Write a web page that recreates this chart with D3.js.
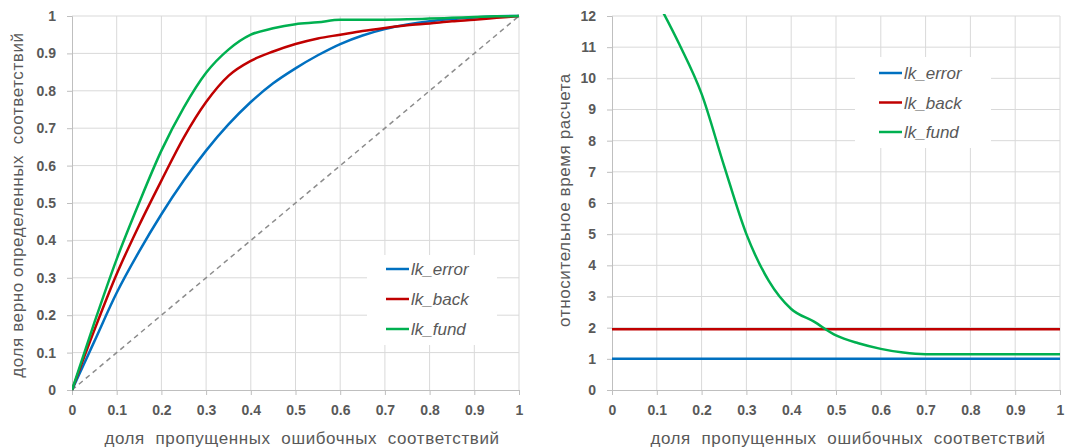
<!DOCTYPE html>
<html>
<head>
<meta charset="utf-8">
<script src="https://cdn.jsdelivr.net/npm/d3@7"></script>
<style>
body { margin: 0; background: #fff; }
svg { display: block; font-family: "Liberation Sans", Arial, sans-serif; }
.tick-label { font-size: 14px; font-weight: bold; fill: #595959; }
.axis-title { font-size: 17px; fill: #595959; letter-spacing: 0.6px; white-space: pre; }
.legend-text { font-size: 17px; font-style: italic; fill: #595959; }
</style>
</head>
<body>
<svg id="chart" width="1065" height="447"></svg>
<script>
// shared x values (доля пропущенных ошибочных соответствий)
var xs = [0, 0.05, 0.1, 0.15, 0.2, 0.25, 0.3, 0.35, 0.4, 0.45, 0.5, 0.55, 0.6, 0.65, 0.7, 0.75, 0.8, 0.85, 0.9, 0.95, 1];

// left chart: доля верно определенных соответствий
var accError = [0, 0.13, 0.26, 0.37, 0.47, 0.56, 0.64, 0.71, 0.77, 0.82, 0.86, 0.895, 0.925, 0.948, 0.965, 0.977, 0.986, 0.992, 0.996, 0.999, 1];
var accBack  = [0, 0.16, 0.31, 0.44, 0.56, 0.675, 0.77, 0.84, 0.88, 0.905, 0.925, 0.94, 0.95, 0.96, 0.968, 0.975, 0.98, 0.986, 0.99, 0.995, 1];
var accFund  = [0, 0.18, 0.35, 0.5, 0.64, 0.755, 0.848, 0.91, 0.95, 0.967, 0.978, 0.983, 0.99, 0.99, 0.99, 0.991, 0.993, 0.995, 0.997, 0.999, 1];

// right chart: относительное время расчета
var timeError = [1, 1, 1, 1, 1, 1, 1, 1, 1, 1, 1, 1, 1, 1, 1, 1, 1, 1, 1, 1, 1];
var timeBack  = [1.95, 1.95, 1.95, 1.95, 1.95, 1.95, 1.95, 1.95, 1.95, 1.95, 1.95, 1.95, 1.95, 1.95, 1.95, 1.95, 1.95, 1.95, 1.95, 1.95, 1.95];
var fundXs    = [0.1, 0.15, 0.2, 0.25, 0.3, 0.35, 0.4, 0.45, 0.5, 0.55, 0.6, 0.65, 0.7, 0.75, 0.8, 0.85, 0.9, 0.95, 1];
var timeFund  = [12.5, 11.1, 9.5, 7.2, 5.0, 3.5, 2.6, 2.2, 1.75, 1.5, 1.32, 1.2, 1.15, 1.15, 1.15, 1.15, 1.15, 1.15, 1.15];

var seriesNames = ["lk_error", "lk_back", "lk_fund"];
var colors = ["#0070c0", "#c00000", "#00b050"];

var xTicks = [0, 0.1, 0.2, 0.3, 0.4, 0.5, 0.6, 0.7, 0.8, 0.9, 1];
var yTicksL = [0, 0.1, 0.2, 0.3, 0.4, 0.5, 0.6, 0.7, 0.8, 0.9, 1];
var yTicksR = [0, 1, 2, 3, 4, 5, 6, 7, 8, 9, 10, 11, 12];

var xTitle = "доля  пропущенных  ошибочных  соответствий";

var svg = d3.select("#chart");

function drawPanel(opt) {
	var g = svg.append("g");
	var x = d3.scaleLinear().domain([0, 1]).range(opt.xr);
	var y = d3.scaleLinear().domain(opt.yd).range(opt.yr);

	// gridlines
	g.selectAll(".vg").data(xTicks.slice(1)).enter().append("line")
		.attr("x1", d => x(d)).attr("x2", d => x(d))
		.attr("y1", opt.yr[0]).attr("y2", opt.yr[1])
		.attr("stroke", "#d9d9d9").attr("stroke-width", 1);
	g.selectAll(".hg").data(opt.yTicks.slice(1)).enter().append("line")
		.attr("x1", opt.xr[0]).attr("x2", opt.xr[1])
		.attr("y1", d => y(d)).attr("y2", d => y(d))
		.attr("stroke", "#d9d9d9").attr("stroke-width", 1);

	// axes
	var xa = g.append("g").attr("transform", "translate(0," + opt.yr[0] + ")")
		.call(d3.axisBottom(x).tickValues(xTicks).tickSize(5).tickPadding(10).tickFormat(d3.format("")));
	var ya = g.append("g").attr("transform", "translate(" + opt.xr[0] + ",0)")
		.call(d3.axisLeft(y).tickValues(opt.yTicks).tickSize(5).tickPadding(11).tickFormat(d3.format("")));
	[xa, ya].forEach(function(a) {
		a.select(".domain").attr("stroke", "#bfbfbf");
		a.selectAll(".tick line").attr("stroke", "#bfbfbf");
		a.selectAll(".tick text").attr("class", "tick-label").attr("fill", null);
		a.attr("font-family", null).attr("font-size", null);
	});

	// titles
	g.append("text").attr("class", "axis-title")
		.attr("x", opt.xtX).attr("y", 444)
		.attr("text-anchor", "middle").text(xTitle);
	g.append("text").attr("class", "axis-title")
		.attr("transform", "translate(" + opt.ytX + "," + opt.ytY + ") rotate(-90)")
		.attr("text-anchor", "middle").text(opt.yTitle);

	// clip
	var cid = "clip" + opt.id;
	svg.append("clipPath").attr("id", cid).append("rect")
		.attr("x", opt.xr[0]).attr("y", opt.yr[1] - 2)
		.attr("width", opt.xr[1] - opt.xr[0] + 3).attr("height", opt.yr[0] - opt.yr[1] + 4);
	var plot = g.append("g").attr("clip-path", "url(#" + cid + ")");

	if (opt.diag) {
		plot.append("line")
			.attr("x1", x(0)).attr("y1", y(0)).attr("x2", x(1)).attr("y2", y(1))
			.attr("stroke", "#8c8c8c").attr("stroke-width", 1.5).attr("stroke-dasharray", "5,4");
	}

	var line = d3.line().x(d => x(d[0])).y(d => y(d[1])).curve(d3.curveMonotoneX);
	opt.series.forEach(function(s, i) {
		plot.append("path")
			.datum(s.xv.map((v, j) => [v, s.vals[j]]))
			.attr("fill", "none").attr("stroke", colors[i]).attr("stroke-width", 2.5)
			.attr("stroke-linejoin", "round")
			.attr("d", line);
	});

	// legend
	var lg = g.append("g");
	lg.append("rect").attr("x", opt.leg.x).attr("y", opt.leg.y)
		.attr("width", opt.leg.w).attr("height", opt.leg.h).attr("fill", "#fff");
	seriesNames.forEach(function(name, i) {
		var ly = opt.leg.y + opt.leg.first + i * opt.leg.step;
		lg.append("line").attr("x1", opt.leg.lx).attr("x2", opt.leg.lx + 23)
			.attr("y1", ly).attr("y2", ly)
			.attr("stroke", colors[i]).attr("stroke-width", 2.5);
		lg.append("text").attr("class", "legend-text")
			.attr("x", opt.leg.lx + 25).attr("y", ly + 6).text(name);
	});
}

drawPanel({
	id: "L", xr: [72, 519], yr: [390, 16], yd: [0, 1], yTicks: yTicksL,
	series: [{xv: xs, vals: accError}, {xv: xs, vals: accBack}, {xv: xs, vals: accFund}],
	diag: true,
	yTitle: "доля верно определенных  соответствий", ytX: 23, ytY: 205, xtX: 302,
	leg: {x: 367, y: 255, w: 130, h: 90, lx: 386, first: 14, step: 30}
});

drawPanel({
	id: "R", xr: [612, 1060], yr: [390, 16], yd: [0, 12], yTicks: yTicksR,
	series: [{xv: xs, vals: timeError}, {xv: xs, vals: timeBack}, {xv: fundXs, vals: timeFund}],
	diag: false,
	yTitle: "относительное время расчета", ytX: 570, ytY: 200, xtX: 848,
	leg: {x: 855, y: 57, w: 136, h: 91, lx: 879, first: 16, step: 29.5}
});
</script>
</body>
</html>
